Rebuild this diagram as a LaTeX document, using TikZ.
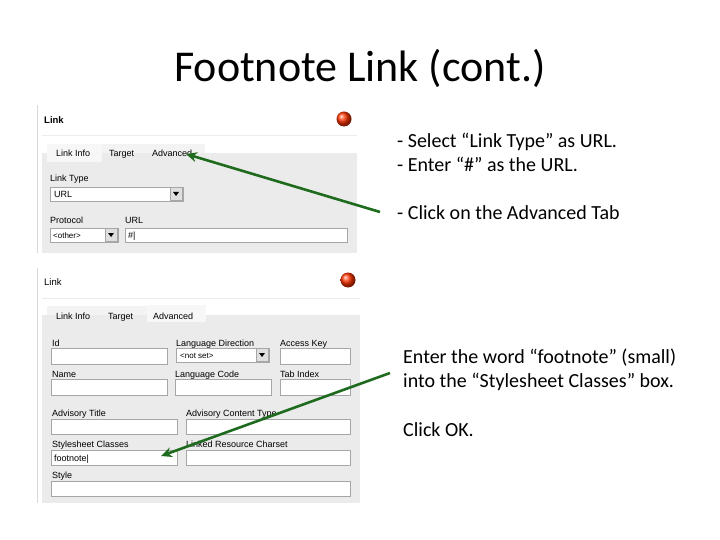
\documentclass[tikz,border=0pt]{standalone}
\usepackage{fontspec}
\setmainfont{Carlito}
\newfontfamily\uifont{Liberation Sans}
\usetikzlibrary{arrows.meta}
\definecolor{panelgray}{HTML}{EBEBEB}
\definecolor{arrowgreen}{HTML}{1E6B1E}
\tikzset{
  % Text in the slide.
  slide text/.style={
    anchor=base west,
    inner sep=0pt,
    font={\fontsize{20}{24}\selectfont}},
%
  % Labels inside the dialogs.
  ui label/.style={
    anchor=base west,
    inner sep=0pt,
    font={\uifont\fontsize{9}{10}\selectfont}},
%
  % Input boxes.
  field/.style={
    draw=gray!70,
    fill=white,
    line width=0.8pt},
%
  % Pointing arrows.
  pointer/.style={
    draw=arrowgreen,
    line width=2.6pt,
    -{Stealth[length=11pt,width=10pt]}}
}
\newcommand{\dropbtn}[2]{%
  \fill[gray!25] (#1,#2) rectangle ++(12,13);
  \draw[gray!70] (#1,#2) rectangle ++(12,13);
  \fill[black] (#1+3,#2+5) -- (#1+9,#2+5) -- (#1+6,#2+9) -- cycle;}
\begin{document}
\begin{tikzpicture}[x=1pt,y=-1pt]
  \useasboundingbox[fill=white] (0,0) rectangle (720,540);

  \node[font={\fontsize{44}{50}\selectfont}] (title) at (360,68) {Footnote Link (cont.)};

  % First dialog.
  \draw[gray!30] (37,105) -- (37,253);
  \draw[gray!15] (42,135) -- (357,135);
  \node[ui label, font={\uifont\bfseries\fontsize{9.5}{10}\selectfont}] (linkA) at (44,124) {Link};
  \shade[ball color=red!60!orange] (344,119) circle (7.5);
  \fill[panelgray] (42,153) rectangle (357,253);
  \fill[panelgray!40] (47,144) rectangle (102,162);
  \fill[panelgray!60] (102,144) rectangle (205,153);
  \node[ui label] (infoA) at (56,157) {Link Info};
  \node[ui label] (targetA) at (109,157) {Target};
  \node[ui label] (advA) at (152,157) {Advanced};
  \node[ui label] (typeA) at (50,182) {Link Type};
  \draw[field] (50,187) rectangle (183,201);
  \node[ui label] at (54,197) {URL};
  \dropbtn{170}{187}
  \node[ui label] (protoA) at (50,224) {Protocol};
  \draw[field] (50,228) rectangle (118,242);
  \node[ui label, font={\uifont\fontsize{8}{9}\selectfont}] at (53,238) {<other>};
  \dropbtn{105}{228}
  \node[ui label] (urlA) at (125,224) {URL};
  \draw[field] (125,228) rectangle (347,242);
  \node[ui label] at (128,238) {\#|};

  % Second dialog.
  \draw[gray!30] (37,268) -- (37,503);
  \draw[gray!15] (42,298) -- (360,298);
  \node[ui label, font={\uifont\fontsize{9.5}{10}\selectfont}] (linkB) at (44,285) {Link};
  \shade[ball color=red!60!orange] (348,280) circle (7.5);
  \fill[panelgray] (42,315) rectangle (360,503);
  \fill[panelgray!60] (47,306) rectangle (147,315);
  \fill[panelgray!40] (147,305) rectangle (206,322);
  \node[ui label] (infoB) at (56,319) {Link Info};
  \node[ui label] (targetB) at (108,319) {Target};
  \node[ui label] (advB) at (153,319) {Advanced};
  \foreach \lx/\ly/\txt in {52/346/Id, 176/346/Language Direction, 280/346/Access Key,
      52/377/Name, 175/377/Language Code, 280/377/Tab Index,
      52/416/Advisory Title, 186/416/Advisory Content Type,
      52/447/Stylesheet Classes, 186/447/Linked Resource Charset, 52/478/Style}
    \node[ui label] at (\lx,\ly) {\txt};
  \foreach \ax/\ay/\bx/\by in {51/348/167/364, 280/348/350/364,
      51/379/167/395, 175/379/271/395, 280/379/350/395,
      51/419/177/434, 186/419/350/434, 51/450/177/465, 186/450/350/465,
      51/481/350/496}
    \draw[field] (\ax,\ay) rectangle (\bx,\by);
  \draw[field] (176,348) rectangle (269,362);
  \node[ui label, font={\uifont\fontsize{8}{9}\selectfont}] at (180,358) {<not set>};
  \dropbtn{256}{348}
  \node[ui label] (styleval) at (54,461) {footnote|};

  % Instructions.
  \node[slide text] (stepA) at (397,148) {- Select “Link Type” as URL.};
  \node[slide text] (stepB) at (397,172) {- Enter “\#” as the URL.};
  \node[slide text] (stepC) at (397,219) {- Click on the Advanced Tab};
  \node[slide text] (stepD) at (403,363) {Enter the word “footnote” (small)};
  \node[slide text] (stepE) at (403,387) {into the “Stylesheet Classes” box.};
  \node[slide text] (stepF) at (403,436) {Click OK.};

  \coordinate (fromC) at (380,212);
  \coordinate (toC) at (186,154);
  \coordinate (fromD) at (390,373);
  \coordinate (toD) at (161,456);
  \draw[pointer] (fromC) -- (toC);
  \draw[pointer] (fromD) -- (toD);
\end{tikzpicture}
\end{document}
